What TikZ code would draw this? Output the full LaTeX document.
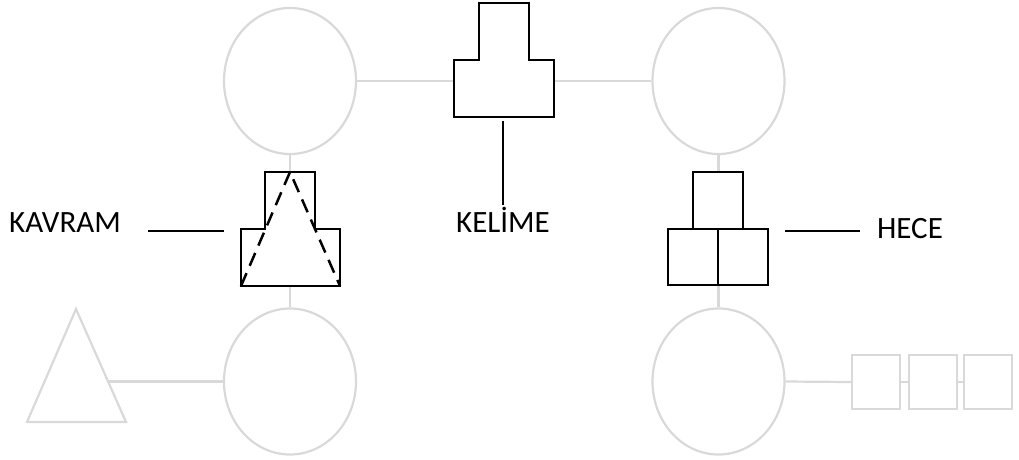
\documentclass[tikz,border=0pt]{standalone}
\usepackage{fontspec}
\setmainfont{Carlito}
\usetikzlibrary{shapes.geometric}
\definecolor{faintgray}{HTML}{D9D9D9}
\begin{document}
\begin{tikzpicture}[x=1pt,y=-1pt,
  faint/.style={draw=faintgray, line width=2.2pt},
  ell/.style={ellipse, faint, minimum width=132pt, minimum height=146pt, inner sep=0pt},
  gsq/.style={rectangle, faint, minimum width=48pt, minimum height=54pt, inner sep=0pt},
  blk/.style={draw=black, line width=2.5pt, fill=white},
  blkline/.style={draw=black, line width=2.5pt},
  lbl/.style={font=\fontsize{31}{37}\selectfont, inner sep=0pt, anchor=base}]
\useasboundingbox (0,0) rectangle (1019,459);
% gray ellipses
\node[ell] (tl) at (290,81) {};
\node[ell] (tr) at (718.5,81) {};
\node[ell] (bl) at (290,381.5) {};
\node[ell] (br) at (718.5,381.5) {};
% gray squares
\node[gsq] (s1) at (876,382) {};
\node[gsq] (s2) at (933,382) {};
\node[gsq] (s3) at (988,382) {};
% gray triangle
\coordinate (ta) at (76,309);
\coordinate (tbl) at (27,422);
\coordinate (tbr) at (126,422);
\coordinate (tside) at (108,381.5);
\draw[faint, line join=miter] (ta) -- (tbr) -- (tbl) -- cycle;
% gray connectors
\draw[faint] (tl.east) -- (tr.west);
\draw[faint] (tl.south) -- (bl.north);
\draw[faint] (tr.south) -- (br.north);
\draw[faint] (tside) -- (bl.west);
\draw[faint] (br.east) -- (s1.west);
\draw[faint] (s1.east) -- (s2.west);
\draw[faint] (s2.east) -- (s3.west);
% KELIME shape
\draw[blk] (454,117) -- (454,60) -- (479,60) -- (479,3) -- (529,3) -- (529,60) -- (554,60) -- (554,117) -- cycle;
% KAVRAM shape
\draw[blk] (241,286) -- (241,229) -- (265,229) -- (265,172) -- (315,172) -- (315,229) -- (340,229) -- (340,286) -- cycle;
\coordinate (ka) at (290,172);
\coordinate (kl) at (241,286);
\coordinate (kr) at (340,286);
\draw[blkline, dash pattern=on 14pt off 8pt] (kl) -- (ka) -- (kr);
% HECE shape
\draw[blk] (693,172) rectangle (743,229);
\draw[blk] (668,229) rectangle (718,285);
\draw[blk] (718,229) rectangle (768,285);
% labels
\node[lbl] (kavram) at (65,232) {KAVRAM};
\node[lbl] (kelime) at (503,232) {KELİME};
\node[lbl] (hece) at (910,238) {HECE};
% label lines
\coordinate (kv1) at (148,231);
\coordinate (kv2) at (224,231);
\draw[blkline] (kv1) -- (kv2);
\coordinate (ke1) at (503,121);
\coordinate (ke2) at (503,205);
\draw[blkline] (ke1) -- (ke2);
\coordinate (he1) at (785,231);
\coordinate (he2) at (860,231);
\draw[blkline] (he1) -- (he2);
\end{tikzpicture}
\end{document}
